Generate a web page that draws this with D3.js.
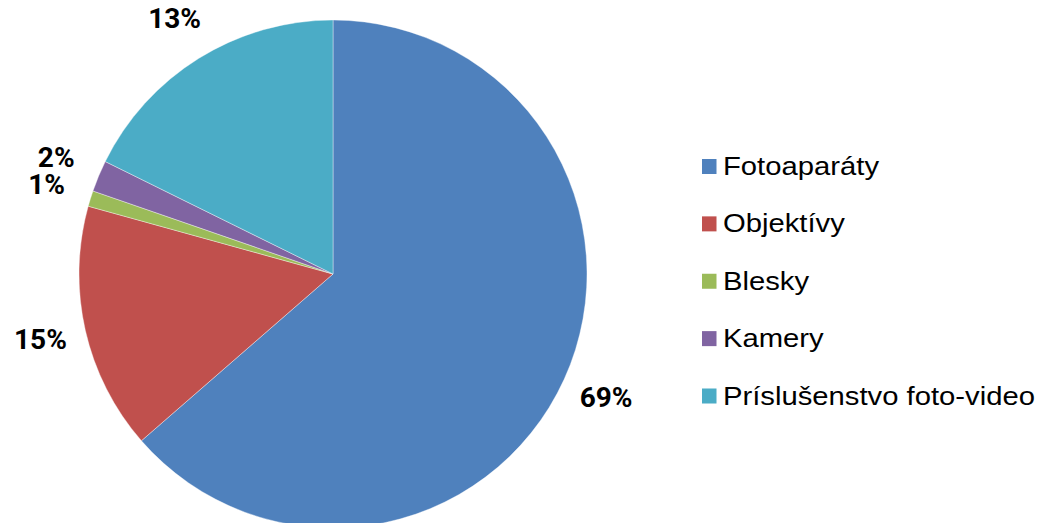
<!DOCTYPE html>
<html>
<head>
<meta charset="utf-8">
<script src="https://cdn.jsdelivr.net/npm/d3@7"></script>
<style>
html,body{margin:0;padding:0;background:#fff;overflow:hidden;}
</style>
</head>
<body>
<svg id="chart" width="1040" height="523"></svg>
<script>
const categories = ["Fotoaparáty", "Objektívy", "Blesky", "Kamery", "Príslušenstvo foto-video"];
const values = [63.6, 15.7, 1.0, 2.0, 17.7];
const labels = ["69%", "15%", "1%", "2%", "13%"];
const colors = ["#4F81BD", "#C0504D", "#9BBB59", "#8064A2", "#4BACC6"];

const svg = d3.select("#chart");
const cx = 333, cy = 274, r = 254;

const pie = d3.pie().sort(null).value(d => d.v);
const data = categories.map((c, i) => ({c, v: values[i], label: labels[i], color: colors[i]}));
const arcs = pie(data);

const arc = d3.arc().innerRadius(0).outerRadius(r);
const labelArc = d3.arc().innerRadius(300).outerRadius(300);

const g = svg.append("g").attr("transform", `translate(${cx},${cy})`);
g.selectAll("path").data(arcs).enter().append("path")
  .attr("d", arc)
  .attr("fill", d => d.data.color)
  .attr("stroke", "#ffffff")
  .attr("stroke-opacity", 0.5)
  .attr("stroke-width", 0.75);

g.selectAll("text").data(arcs).enter().append("text")
  .attr("transform", d => { const p = labelArc.centroid(d); return `translate(${p[0]},${p[1] + 9})`; })
  .attr("text-anchor", "middle")
  .style("font-family", "Roboto, 'Open Sans', sans-serif")
  .style("font-weight", "bold")
  .style("font-size", "28px")
  .attr("fill", "#000")
  .text(d => d.data.label);

const legendY = d3.scalePoint().domain(categories).range([166.5, 396]);
const lg = svg.append("g");
const items = lg.selectAll("g").data(data).enter().append("g")
  .attr("transform", d => `translate(702,${legendY(d.c)})`);
items.append("rect")
  .attr("x", 0).attr("y", -7.5).attr("width", 14.5).attr("height", 15)
  .attr("fill", d => d.color);
items.append("text")
  .attr("transform", "translate(21,8.5) scale(1.125,1)")
  .style("font-family", "'Liberation Sans', Arial, sans-serif")
  .style("font-size", "26px")
  .attr("fill", "#000")
  .text(d => d.c);
</script>
</body>
</html>
